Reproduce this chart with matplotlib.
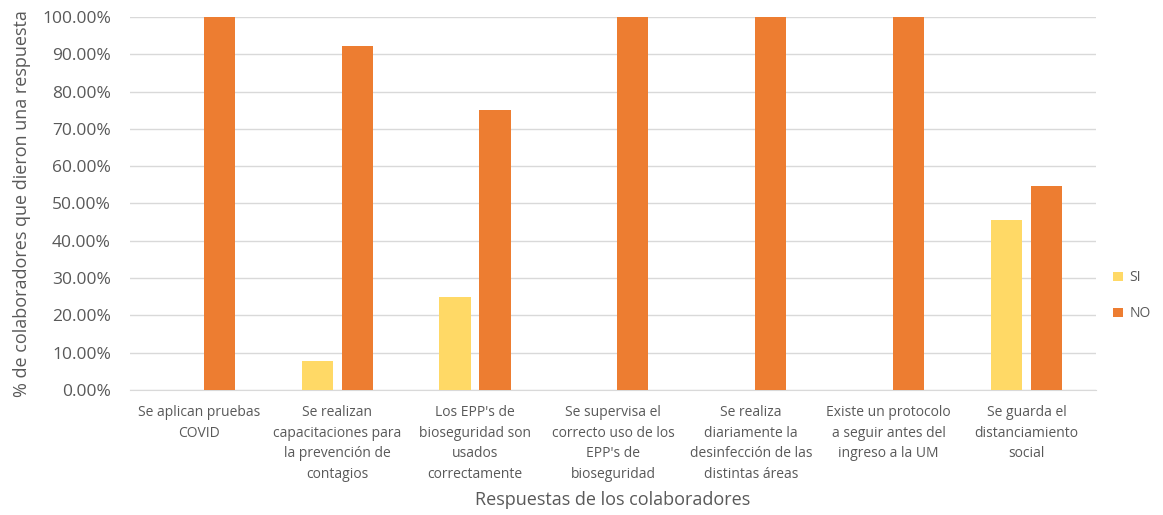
import numpy as np
import matplotlib.pyplot as plt
from matplotlib.ticker import PercentFormatter

# datos
categorias = [
    "Se aplican pruebas\nCOVID",
    "Se realizan\ncapacitaciones para\nla prevención de\ncontagios",
    "Los EPP's de\nbioseguridad son\nusados\ncorrectamente",
    "Se supervisa el\ncorrecto uso de los\nEPP's de\nbioseguridad",
    "Se realiza\ndiariamente la\ndesinfección de las\ndistintas áreas",
    "Existe un protocolo\na seguir antes del\ningreso a la UM",
    "Se guarda el\ndistanciamiento\nsocial",
]
si = [0.0, 7.69, 25.0, 0.0, 0.0, 0.0, 45.45]
no = [100.0, 92.31, 75.0, 100.0, 100.0, 100.0, 54.55]

plt.rcParams['font.family'] = ['Open Sans', 'DejaVu Sans']
gris = "#595959"

fig = plt.figure(figsize=(11.63, 5.15), dpi=100)
ax = fig.add_axes([0.112, 0.243, 0.83, 0.724])

x = np.arange(len(categorias))
w = 0.225
ax.bar(x - 0.145, si, w, color="#FFD966", label="SI", zorder=3)
ax.bar(x + 0.145, no, w, color="#ED7D31", label="NO", zorder=3)

ax.set_xlim(-0.5, len(categorias) - 0.5)
ax.set_ylim(0, 100)
ax.set_yticks(np.arange(0, 101, 10))
ax.yaxis.set_major_formatter(PercentFormatter(decimals=2))
ax.set_xticks(x)
ax.set_xticklabels(categorias, fontsize=10, color=gris, linespacing=1.5)
ax.tick_params(axis='y', labelsize=12.5, colors=gris, length=0, pad=14)
ax.tick_params(axis='x', length=0, pad=11)

ax.grid(axis='y', color="#D9D9D9", linewidth=1, zorder=0)
for s in ['top', 'right', 'left']:
    ax.spines[s].set_visible(False)
ax.spines['bottom'].set_color("#D9D9D9")

ax.set_ylabel("% de colaboradores que dieron una respuesta", fontsize=13, color=gris, labelpad=8)
ax.set_xlabel("Respuestas de los colaboradores", fontsize=13, color=gris, labelpad=7)

ax.legend(loc='center left', bbox_to_anchor=(1.005, 0.252), frameon=False,
          fontsize=10, labelcolor=gris, handlelength=0.7, handleheight=0.7,
          labelspacing=1.5, handletextpad=0.5)

fig.savefig("out.png", dpi=100)
